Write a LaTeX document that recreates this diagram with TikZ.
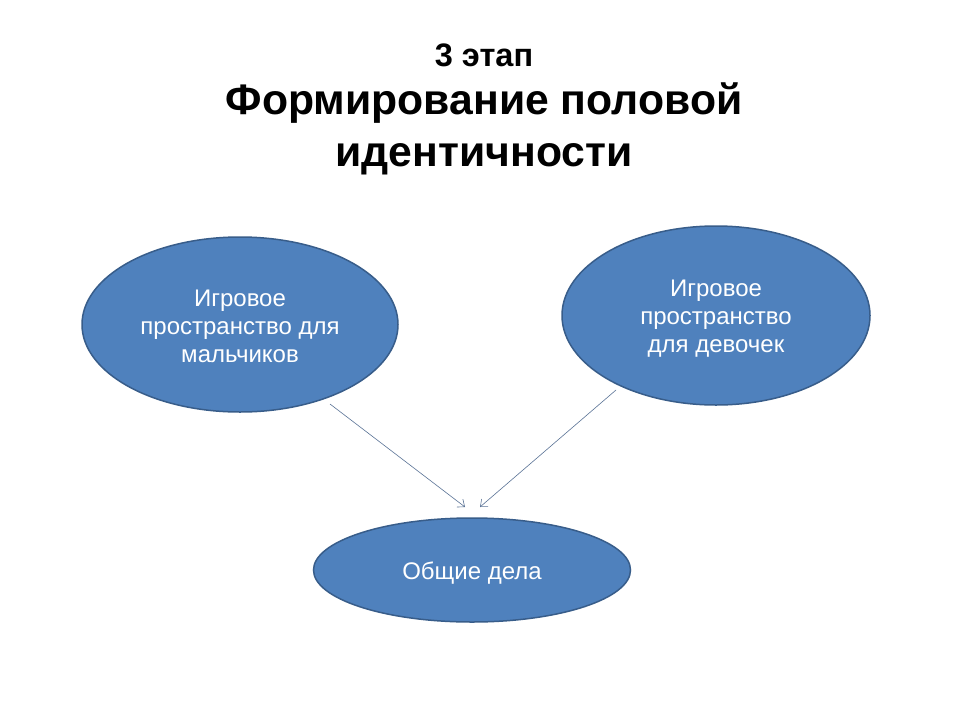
\documentclass[tikz,border=0pt]{standalone}
\usepackage{fontspec}
\setmainfont{Liberation Sans}
\usetikzlibrary{arrows.meta,shapes.geometric}
\definecolor{ovalfill}{HTML}{4F81BD}
\definecolor{ovalline}{HTML}{385D8A}
\definecolor{arrowcol}{HTML}{5A7396}
\tikzset{
  oval/.style={ellipse, fill=ovalfill, draw=ovalline, line width=1.5pt, inner sep=0pt},
  ovaltext/.style={text=white, align=center, font=\fontsize{24}{28}\selectfont},
  titletext/.style={align=center, font=\bfseries\fontsize{42.7}{52}\selectfont},
  conn/.style={draw=arrowcol, line width=0.6pt, -{Straight Barb[length=6pt,width=10pt]}},
}
\begin{document}
\begin{tikzpicture}[x=1pt,y=-1pt]
\useasboundingbox (0,0) rectangle (960,720);
\fill[white] (0,0) rectangle (960,720);
\node[font=\bfseries\fontsize{32.5}{36}\selectfont] (stage) at (484,55) {3 этап};
\node[titletext] (title) at (484,129) {Формирование половой\\идентичности};
\node[oval, minimum width=316pt, minimum height=175pt] (boys) at (240,324.5) {};
\node[oval, minimum width=308pt, minimum height=179pt] (girls) at (716,315.5) {};
\node[oval, minimum width=317pt, minimum height=104pt] (common) at (472,570) {};
\node[ovaltext] at ([yshift=-2pt]boys.center) {Игровое\\пространство для\\мальчиков};
\node[ovaltext] at ([yshift=-3pt]girls.center) {Игровое\\пространство\\для девочек};
\node[ovaltext] at ([yshift=-3pt]common.center) {Общие дела};
\coordinate (a1) at (330,404);
\coordinate (a2) at (465,507);
\coordinate (b1) at (616,390);
\coordinate (b2) at (480,507);
\draw[conn] (a1) -- (a2);
\draw[conn] (b1) -- (b2);
\end{tikzpicture}
\end{document}
